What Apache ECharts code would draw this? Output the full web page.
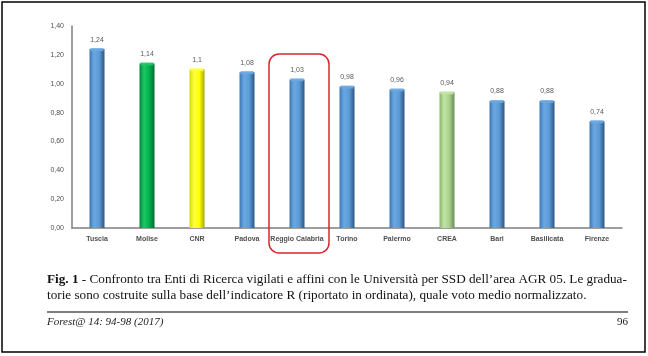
<!DOCTYPE html>
<html>
<head>
<meta charset="utf-8">
<script src="https://cdn.jsdelivr.net/npm/echarts@6/dist/echarts.min.js"></script>
<style>
html,body{margin:0;padding:0;background:#fff;}
#c{width:648px;height:356px;}
</style>
</head>
<body>
<div id="c"></div>
<script>
const categories = ['Tuscia','Molise','CNR','Padova','Reggio Calabria','Torino','Palermo','CREA','Bari','Basilicata','Firenze'];
const values = [1.24,1.14,1.1,1.08,1.03,0.98,0.96,0.94,0.88,0.88,0.74];
const yTicks = [0,0.2,0.4,0.6,0.8,1.0,1.2,1.4];

const palettes = {
  blue:   ['#3d77b4','#6aa8e2','#5b9bd5','#2c5580'],
  green:  ['#00883c','#1ec864','#00b050','#006a30'],
  yellow: ['#d8d800','#ffff40','#ffff00','#a8a800'],
  lgreen: ['#88b46c','#c0e4a4','#a9d18e','#6c8c58']
};
const colorKey = ['blue','green','yellow','blue','blue','blue','blue','lgreen','blue','blue','blue'];

function grad(p){
  return new echarts.graphic.LinearGradient(0,0,1,0,[
    {offset:0,color:p[0]},{offset:0.3,color:p[1]},{offset:0.65,color:p[2]},{offset:1,color:p[3]}
  ]);
}
const fmt = v => String(v).replace('.',',');

const chart = echarts.init(document.getElementById('c'));
chart.setOption({
  backgroundColor:'#ffffff',
  animation:false,
  grid:{left:72,right:26,top:26,bottom:128},
  xAxis:{
    type:'category',
    data:categories,
    axisLine:{lineStyle:{color:'#7f7f7f',width:1.5}},
    axisTick:{show:false},
    axisLabel:{color:'#505050',fontSize:7,fontWeight:'bold',fontFamily:'Liberation Sans',margin:8,interval:0}
  },
  yAxis:{
    type:'value',
    min:0,max:1.4,interval:0.2,
    axisLine:{show:true,lineStyle:{color:'#7f7f7f',width:1.5}},
    axisTick:{show:false},
    splitLine:{show:false},
    axisLabel:{color:'#505050',fontSize:7,fontFamily:'Liberation Sans',margin:8,
      formatter:v=>{const t=yTicks.find(x=>Math.abs(x-v)<1e-6); return (t===undefined?v:t).toFixed(2).replace('.',',');}}
  },
  series:[
    {
      type:'bar',
      barWidth:15,
      data:values.map((v,i)=>({value:v,itemStyle:{color:grad(palettes[colorKey[i]])}})),
      label:{show:true,position:'top',distance:6,color:'#595959',fontSize:7,fontFamily:'Liberation Sans',
        formatter:p=>fmt(p.value)}
    },
    {
      type:'pictorialBar',
      symbol:'rect',
      symbolSize:[13,3],
      symbolPosition:'end',
      symbolOffset:[0,-1],
      z:5,
      silent:true,
      data:values.map((v,i)=>({value:v,itemStyle:{color:palettes[colorKey[i]][1],opacity:0.9}}))
    }
  ],
  graphic:[
    {type:'rect',shape:{x:2,y:2,width:643,height:350},style:{fill:'none',stroke:'#000',lineWidth:1.5},silent:true},
    {type:'rect',shape:{x:269,y:54,width:60,height:199,r:10},style:{fill:'none',stroke:'#d9262c',lineWidth:1.5},z:10,silent:true},
    {type:'text',left:47,top:273,style:{rich:{b:{fontWeight:'bold',fontFamily:'Liberation Serif',fontSize:13.2,fill:'#111'},n:{fontFamily:'Liberation Serif',fontSize:13.2,fill:'#111'}},
      text:'{b|Fig. 1}{n| - Confronto tra Enti di Ricerca vigilati e affini con le Università per SSD dell’area AGR 05. Le gradua-}'}},
    {type:'text',left:47,top:289,style:{fontFamily:'Liberation Serif',fontSize:13.2,fill:'#111',
      text:'torie sono costruite sulla base dell’indicatore R (riportato in ordinata), quale voto medio normalizzato.'}},
    {type:'line',shape:{x1:47,y1:312,x2:628,y2:312},style:{stroke:'#555',lineWidth:1.5}},
    {type:'text',left:47,top:317,style:{fontFamily:'Liberation Serif',fontStyle:'italic',fontSize:11,fill:'#222',text:'Forest@ 14: 94-98 (2017)'}},
    {type:'text',right:20,top:317,style:{fontFamily:'Liberation Serif',fontSize:11,fill:'#222',text:'96',align:'right'}}
  ]
});
</script>
</body>
</html>
